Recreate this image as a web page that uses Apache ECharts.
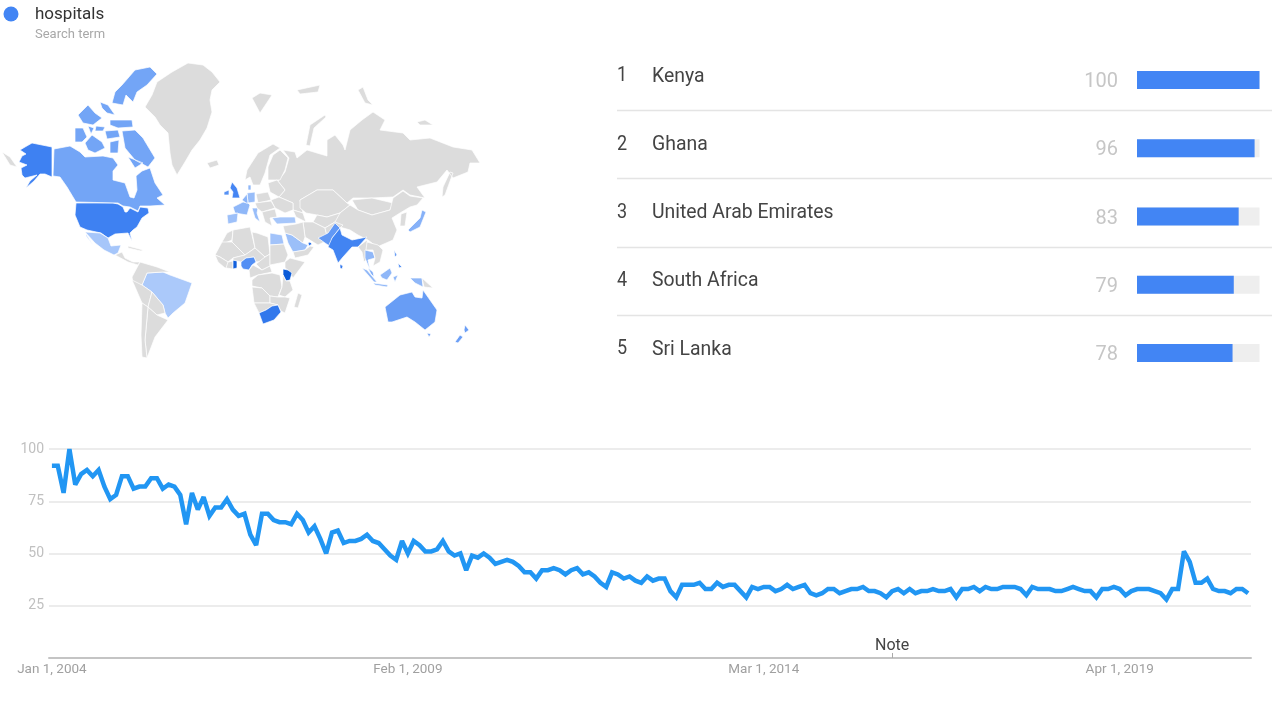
<!DOCTYPE html>
<html>
<head>
<meta charset="utf-8">
<style>html,body{margin:0;padding:0;background:#fff}#c{width:1272px;height:711px}</style>
<script src="https://cdn.jsdelivr.net/npm/echarts@6/dist/echarts.min.js"></script>
</head>
<body>
<div id="c"></div>
<script>
// ---------- data ----------
const searchTerm = 'hospitals';
const searchTermSub = 'Search term';
const ranks = [1, 2, 3, 4, 5];
const topRegions = ['Kenya', 'Ghana', 'United Arab Emirates', 'South Africa', 'Sri Lanka'];
const topValues = [100, 96, 83, 79, 78];

const interest = [
 92,92,79,100,83,88,90,87,90,82,76,78,87,87,81,82,82,86,86,81,83,82,78,64,79,71,77,68,72,72,
 76,71,68,69,59,54,69,69,66,65,65,64,69,66,60,63,57,50,60,61,55,56,56,57,59,56,55,52,49,47,
 56,50,56,54,51,51,52,56,51,49,50,42,49,48,50,48,45,46,47,46,44,41,41,38,42,42,43,42,40,42,
 43,40,41,39,36,34,41,40,38,39,37,36,39,37,38,38,32,29,35,35,35,36,33,33,36,34,35,35,32,29,
 34,33,34,34,32,33,35,33,34,35,31,30,31,33,33,31,32,33,33,34,32,32,31,29,32,33,31,33,31,32,
 32,33,32,32,33,29,33,33,34,32,34,33,33,34,34,34,33,30,34,33,33,33,32,32,33,34,33,32,32,29,
 33,33,34,33,30,32,33,33,33,32,31,28,33,33,51,46,36,36,38,33,32,32,31,33,33,31];
const monthNames = ['Jan','Feb','Mar','Apr','May','Jun','Jul','Aug','Sep','Oct','Nov','Dec'];
const months = interest.map((_, i) => monthNames[i % 12] + ' 1, ' + (2004 + Math.floor(i / 12)));
const xTickLabels = ['Jan 1, 2004', 'Feb 1, 2009', 'Mar 1, 2014', 'Apr 1, 2019'];
const noteMonth = 'Jan 1, 2016';

const regionValues = [
 ['Kenya',100],['Ghana',96],['United Arab Emirates',83],['South Africa',79],['Sri Lanka',78],
 ['United States',73],['India',71],['United Kingdom',70],['Ireland',62],['Nigeria',64],['Pakistan',58],
 ['Philippines',62],['Australia',55],['New Zealand',54],['Canada',50],['Malaysia',46],['Thailand',38],
 ['Japan',42],['Indonesia',38],['France',38],['Germany',34],['Denmark',38],['Netherlands',40],['Italy',34],
 ['Spain',32],['Saudi Arabia',33],['Turkey',28],['Egypt',30],['Brazil',26],['Mexico',28]
];

// base map outlines, in map units
const mapShapes = {
 frame:[[[0,50],[490,50],[490,370],[0,370]]],
 'Chukotka':[[[2,152],[10,157],[17,167],[10,165]]],
 'United States':[
  [[20,150],[25,147],[32,143],[42,145],[52,147],[52,177],[45,174],[40,174],[34,181],[26,188],[30,181],[37,175],[25,178],[22,175],[21,168],[27,165],[19,162],[22,156],[26,154]],
  [[76,203],[113,203],[118,204],[123,207],[125,212],[127,212],[130,208],[138,212],[140,207],[148,208],[149,213],[142,218],[137,227],[133,230],[130,233],[132,241],[128,233],[115,234],[108,238],[101,233],[87,230],[80,227],[75,215]]],
 'Canada':[
  [[54,149],[70,146],[80,152],[85,157],[103,156],[113,158],[118,165],[113,171],[113,180],[125,183],[130,197],[134,198],[137,190],[136,176],[142,171],[150,168],[155,183],[163,195],[157,198],[165,205],[150,206],[140,206],[138,211],[130,207],[123,206],[118,203],[76,202],[67,187],[60,177],[53,176]],
  [[112,103],[115,92],[122,85],[135,70],[150,67],[157,74],[147,85],[137,92],[133,102],[126,95],[123,105]],
  [[100,102],[108,105],[115,115],[107,113],[102,108]],
  [[78,115],[88,105],[95,113],[102,118],[93,125],[83,123]],
  [[110,120],[132,120],[133,127],[118,128],[110,125]],
  [[75,128],[83,128],[87,137],[82,142],[75,142]],
  [[85,143],[92,135],[102,142],[105,148],[95,153],[88,150]],
  [[105,131],[118,130],[120,137],[107,139]],
  [[110,142],[119,140],[118,153],[110,153]],
  [[122,131],[135,130],[143,138],[155,158],[148,167],[135,160],[125,148]],
  [[128,157],[143,163],[135,168]],
  [[96,126],[105,127],[103,131],[95,131]],
  [[88,126],[94,128],[91,134]]],
 'Greenland':[[[145,107],[152,95],[157,82],[172,72],[188,63],[203,65],[212,72],[220,82],[212,90],[210,100],[212,112],[207,128],[200,140],[192,150],[185,162],[177,175],[172,165],[170,153],[168,133],[160,125],[155,117]]],
 'Iceland':[[[207,163],[217,160],[219,165],[210,168]]],
 'Mexico':[[[85,232],[100,233],[108,238],[111,246],[121,245],[118,253],[114,255],[104,250],[95,243]],[[86,234],[93,245],[94,246],[86,236]]],
 'Central America':[[[115,255],[122,252],[125,258],[133,262],[140,262],[138,265],[128,262]]],
 'Cuba':[[[128,246],[143,250],[141,251],[128,248]]],
 'Brazil':[[[142,285],[147,273],[163,272],[170,275],[192,283],[185,303],[173,313],[168,318],[165,313],[163,305],[152,292]]],
 'Colombia':[[[132,277],[140,262],[157,267],[170,272],[163,272],[147,273],[142,285],[133,283]]],
 'Peru':[[[132,280],[142,285],[152,292],[148,307],[142,303]]],
 'Bolivia':[[[152,292],[163,305],[165,313],[157,315],[148,307]]],
 'Argentina':[[[148,307],[157,315],[168,320],[155,337],[147,358],[145,340]]],
 'Chile':[[[142,303],[148,307],[145,340],[147,358],[142,357],[141,335]]],
 'Russia':[
  [[278,181],[285,172],[289,158],[283,150],[295,152],[297,158],[307,150],[327,156],[327,140],[335,135],[343,145],[345,150],[350,130],[362,120],[373,112],[385,120],[380,130],[403,133],[410,140],[430,138],[453,147],[472,150],[480,163],[470,163],[468,172],[453,178],[447,170],[437,182],[417,187],[425,198],[410,195],[403,190],[393,197],[372,198],[353,198],[347,203],[333,190],[317,190],[300,200],[303,213],[293,210],[293,203],[279,197],[285,190],[277,180]],
  [[442,197],[443,187],[450,172],[453,173],[445,195]],[[306,145],[310,125],[325,115],[326,117],[314,128],[310,146]],
  [[358,90],[363,87],[368,100],[373,105],[365,103]],[[417,122],[425,120],[433,125],[420,125]],[[297,90],[320,85],[318,92],[300,94]]],
 'Svalbard':[[[252,98],[260,93],[272,95],[260,113]]],
 'Scandinavia':[[[245,180],[247,170],[258,153],[273,144],[280,148],[270,155],[265,173],[260,185],[253,185],[250,177]]],
 'Finland':[[[273,155],[280,150],[288,158],[285,170],[280,180],[268,180],[268,167]]],
 'United Kingdom':[[[232,182],[237,188],[240,198],[232,198],[233,192],[230,188]]],
 'Ireland':[[[224,192],[229,190],[229,195],[224,195]]],
 'France':[[[233,207],[243,202],[248,203],[250,205],[247,215],[235,213]]],
 'Spain':[[[227,215],[238,213],[237,222],[228,224]]],
 'Germany':[[[247,193],[255,192],[255,202],[248,203]]],
 'Denmark':[[[248,185],[251,185],[251,190],[248,190]]],
 'Netherlands':[[[242,200],[247,194],[248,203],[246,203]]],
 'Italy':[[[252,208],[258,208],[257,213],[260,222],[255,218]]],
 'Poland':[[[256,194],[268,192],[271,200],[258,203]]],
 'Belarus':[[[268,183],[277,180],[285,190],[279,197],[270,192]]],
 'Ukraine':[[[271,200],[279,197],[293,203],[293,210],[285,213],[275,208]]],
 'Austria':[[[255,203],[271,201],[275,208],[262,212],[257,208]]],
 'Balkans':[[[262,212],[275,209],[277,217],[270,218],[272,226],[265,222]]],
 'Turkey':[[[272,218],[280,217],[295,217],[296,223],[277,224]]],
 'Caucasus':[[[293,210],[303,213],[306,222],[296,217]]],
 'Kazakhstan':[[[300,200],[317,190],[333,190],[347,203],[350,205],[340,213],[327,217],[317,215],[306,213],[300,208]]],
 'Mongolia':[[[352,200],[372,198],[393,203],[390,210],[372,215],[358,210]]],
 'China':[[[340,213],[350,205],[358,210],[372,215],[390,210],[393,198],[403,191],[410,196],[423,198],[417,205],[410,207],[400,213],[392,218],[397,230],[393,240],[377,247],[368,240],[358,235],[350,230],[333,225],[330,220]]],
 'Korea':[[[401,214],[407,212],[405,226],[400,226]]],
 'Uzbekistan':[[[317,215],[327,217],[340,213],[335,222],[325,228],[313,222]]],
 'Iran':[[[303,222],[313,222],[325,228],[328,240],[318,245],[305,237]]],
 'Afghanistan':[[[325,228],[335,222],[343,225],[336,232],[328,240]]],
 'Pakistan':[[[318,238],[328,233],[335,223],[340,228],[332,238],[331,247],[325,243]]],
 'India':[[[332,238],[340,228],[342,235],[352,240],[367,237],[358,247],[352,247],[343,257],[338,263],[333,250],[328,247]]],
 'Sri Lanka':[[[340,264],[343,266],[342,269],[340,268]]],
 'Myanmar':[[[358,247],[367,240],[368,248],[368,258],[364,262],[362,252]]],
 'Thailand':[[[365,250],[373,252],[375,258],[368,260],[370,270],[365,258]]],
 'Vietnam':[[[367,242],[378,245],[383,250],[380,262],[373,266],[375,258],[373,250],[366,250]]],
 'Malaysia':[[[368,268],[373,272],[374,277],[371,274]]],
 'Indonesia':[[[362,268],[367,270],[377,282],[374,282]],[[373,283],[388,285],[387,287],[375,285]],[[380,275],[390,268],[392,273],[387,280],[382,278]],[[393,277],[398,275],[395,282]],[[410,278],[422,278],[423,287],[415,283]]],
 'Papua New Guinea':[[[422,278],[433,288],[424,287]]],
 'Philippines':[[[394,250],[397,255],[395,257]],[[398,263],[402,267],[399,268]]],
 'Japan':[[[408,230],[420,218],[422,210],[426,212],[420,227],[410,232]]],
 'Australia':[[[385,307],[400,295],[412,292],[415,297],[422,298],[423,290],[430,300],[437,310],[435,322],[425,330],[415,322],[407,317],[392,322],[388,322]],[[427,333],[431,334],[429,337]]],
 'New Zealand':[[[465,325],[469,330],[465,333],[464,330]],[[460,335],[463,337],[458,343],[455,342]]],
 'Madagascar':[[[298,293],[302,295],[298,308],[294,307]]],
 'Morocco':[[[222,242],[227,233],[233,230],[232,240],[225,243]]],
 'Algeria':[[[233,230],[250,227],[252,235],[255,248],[245,255],[232,242]]],
 'Libya':[[[252,232],[257,233],[268,237],[270,254],[265,257],[255,248]]],
 'Egypt':[[[270,233],[282,235],[284,244],[270,245]]],
 'Mauritania':[[[215,255],[222,242],[232,242],[245,255],[233,258],[228,262],[220,257]]],
 'Guinea':[[[215,255],[220,257],[228,262],[231,268],[225,268],[218,262]]],
 'Ivory Coast':[[[228,262],[233,261],[233,269],[226,268]]],
 'Ghana':[[[233,260],[237,260],[237,268],[233,269]]],
 'Niger':[[[233,258],[245,255],[255,248],[265,257],[264,261],[256,262],[254,257],[246,258],[241,262],[233,260]]],
 'Nigeria':[[[241,262],[246,258],[254,257],[256,262],[252,265],[249,270],[243,269],[241,266]]],
 'Chad':[[[265,257],[270,254],[270,266],[262,270],[256,264]]],
 'Sudan':[[[270,245],[284,244],[288,255],[285,262],[270,265]]],
 'Ethiopia':[[[285,262],[290,258],[305,262],[293,278],[288,270],[285,268]]],
 'Kenya':[[[283,269],[288,270],[292,273],[290,280],[286,281],[283,275]]],
 'Cameroon':[[[253,265],[262,270],[270,266],[272,272],[258,275],[250,278],[249,270]]],
 'Congo':[[[252,280],[258,275],[272,273],[280,275],[282,287],[278,297],[270,296],[262,288],[252,286]]],
 'Tanzania':[[[283,275],[286,281],[290,281],[293,290],[285,297],[279,295],[282,287]]],
 'Angola':[[[252,287],[262,288],[270,296],[270,303],[254,303]]],
 'Zambia':[[[270,296],[278,297],[285,297],[290,298],[285,313],[281,311],[278,305],[270,303]]],
 'Namibia':[[[254,303],[270,303],[278,305],[272,306],[266,310],[259,313]]],
 'South Africa':[[[259,313],[266,310],[272,306],[278,305],[281,312],[274,320],[263,324]]],
 'Saudi Arabia':[[[285,233],[292,235],[303,243],[308,245],[305,250],[293,252],[288,243]]],
 'United Arab Emirates':[[[308,243],[310,242],[312,244],[309,246]]],
 'Yemen':[[[293,252],[305,250],[310,246],[314,247],[308,255],[295,258]]],
 'Iraq':[[[283,226],[296,224],[303,222],[305,237],[303,243],[292,235],[285,233]]]
};

// ---------- layout ----------
const rowTop = 46, rowH = 68.2;
const worldGeo = {type:'FeatureCollection', features:Object.keys(mapShapes).map(name => ({
  type:'Feature', properties:{name}, geometry:{type:'MultiPolygon', coordinates:mapShapes[name].map(r => [r])}
}))};
echarts.registerMap('trendsWorld', worldGeo);

const graphics = [
  {type:'circle', shape:{cx:11, cy:14, r:7.5}, style:{fill:'#4285f4'}},
  {type:'text', x:35, y:14.5, style:{text:searchTerm, font:'17px Roboto', fill:'#333', textVerticalAlign:'middle'}},
  {type:'text', x:35, y:34.5, style:{text:searchTermSub, font:'13px Roboto', fill:'#a8a8a8', textVerticalAlign:'middle'}}
];
ranks.forEach((r, i) => {
  const y = rowTop + rowH * i + 30.5;
  graphics.push({type:'text', x:617, y, scaleY:1.08, style:{text:String(r), font:'18px Roboto', fill:'#444', textVerticalAlign:'middle'}});
  graphics.push({type:'text', x:652, y, scaleY:1.08, style:{text:topRegions[i], font:'19.4px Roboto', fill:'#444', textVerticalAlign:'middle'}});
  if (i < ranks.length - 1) {
    const ly = Math.round(rowTop + rowH * (i + 1)) - 3.5;
    graphics.push({type:'line', shape:{x1:617, y1:ly, x2:1272, y2:ly}, style:{stroke:'#e4e4e4', lineWidth:1.5}});
  }
});

const chart = echarts.init(document.getElementById('c'), null, {renderer:'canvas'});
chart.setOption({
  animation:false,
  backgroundColor:'#fff',
  graphic:graphics,
  visualMap:{show:false, type:'continuous', seriesIndex:0, min:20, max:100, inRange:{color:['#b9d2fb','#7baaf7','#3d80f2','#0a5ad8']}},
  geo:{
    map:'trendsWorld', roam:false, silent:true,
    projection:{project:p => p, unproject:p => p},
    left:0, top:50, width:490, height:320,
    itemStyle:{areaColor:'#dcdcdc', borderColor:'#fff', borderWidth:0.7},
    regions:[{name:'frame', itemStyle:{areaColor:'rgba(0,0,0,0)', borderWidth:0, borderColor:'rgba(0,0,0,0)'}}],
    label:{show:false}, emphasis:{disabled:true}
  },
  grid:[
    {left:1137, width:122.5, top:rowTop, height:rowH * 5},
    {left:49, right:21, top:449, height:209}
  ],
  xAxis:[
    {gridIndex:0, type:'value', min:0, max:100, show:false},
    {gridIndex:1, type:'category', data:months, boundaryGap:true,
     axisLine:{lineStyle:{color:'#c4c4c4', width:2}}, axisTick:{show:false},
     axisLabel:{interval:(i, v) => xTickLabels.includes(v), color:'#a0a0a0', fontFamily:'Roboto', fontSize:13.5, margin:5, hideOverlap:false, showMinLabel:true}}
  ],
  yAxis:[
    {gridIndex:0, type:'category', inverse:true, data:topValues.map(String),
     axisLine:{show:false}, axisTick:{show:false},
     axisLabel:{margin:19, formatter:v => '{v|' + v + '}',
       rich:{v:{color:'#c6c6c6', fontFamily:'Roboto', fontSize:20, padding:[4,0,0,0]}}}},
    {gridIndex:1, type:'value', min:0, max:100, interval:25,
     axisLine:{show:false}, axisTick:{show:false},
     splitLine:{lineStyle:{color:'#e6e6e6', width:1.5}},
     axisLabel:{color:'#c0c0c0', fontFamily:'Roboto', fontSize:14, margin:5, formatter:v => v === 0 ? '' : String(v)}}
  ],
  series:[
    {type:'map', geoIndex:0, name:searchTerm, data:regionValues.map(([name, value]) => ({name, value}))},
    {type:'bar', xAxisIndex:0, yAxisIndex:0, data:topValues, barWidth:18, showBackground:true,
     backgroundStyle:{color:'#eeeeee'}, itemStyle:{color:'#4285f4'}, silent:true},
    {type:'line', xAxisIndex:1, yAxisIndex:1, data:interest, showSymbol:false, symbol:'none', clip:false,
     lineStyle:{color:'#2196f3', width:4.5, join:'miter', cap:'butt', miterLimit:2.5}, silent:true,
     markLine:{silent:true, symbol:'none', label:{show:false}, lineStyle:{color:'#aaa', width:1, type:'solid'},
       data:[[{coord:[noteMonth, 0]}, {coord:[noteMonth, 2.4]}]]},
     markPoint:{silent:true, symbol:'circle', symbolSize:0, data:[{coord:[noteMonth, 5.9]}],
       label:{show:true, formatter:'Note', color:'#444', fontFamily:'Roboto', fontSize:16, position:'inside'}}}
  ]
});
</script>
</body>
</html>
